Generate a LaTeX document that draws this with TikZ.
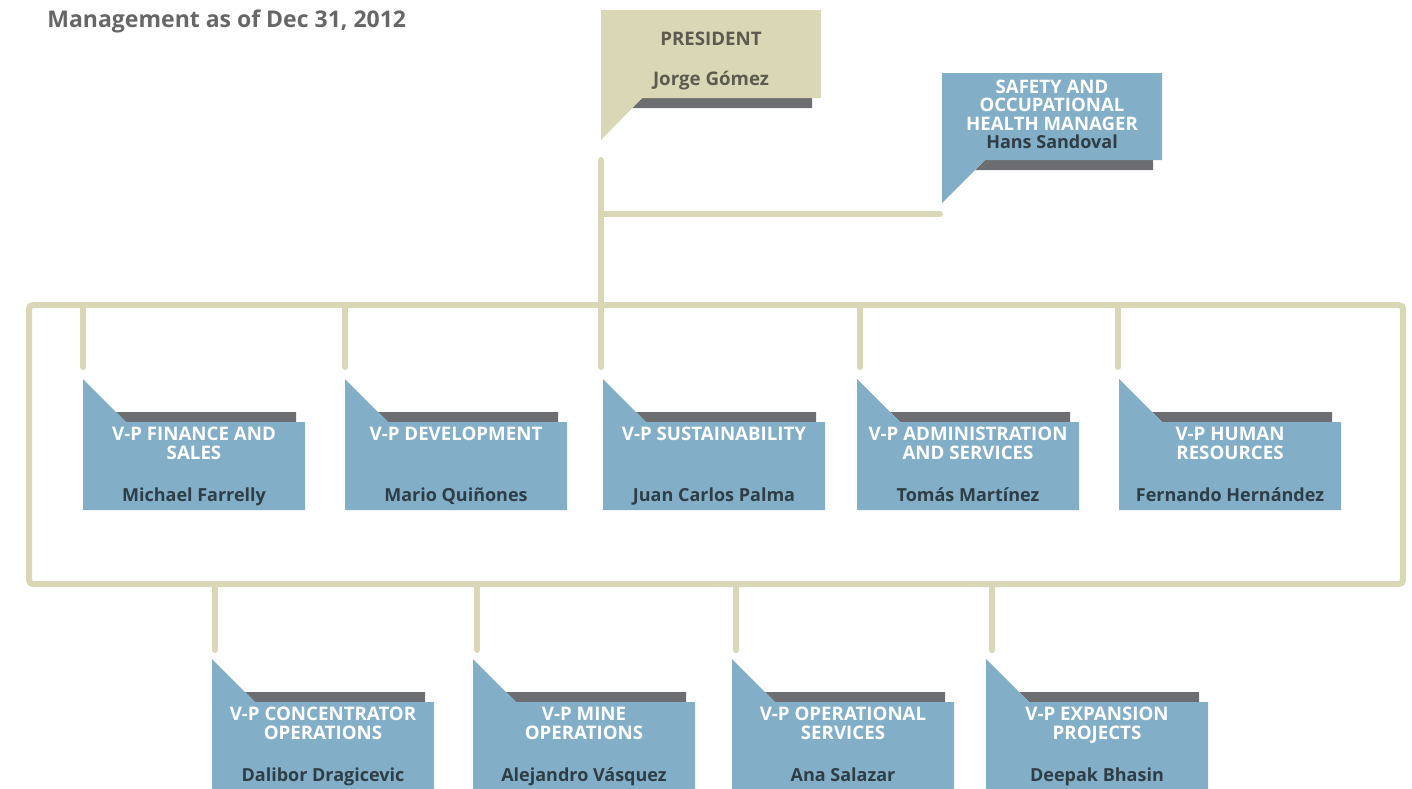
\documentclass[tikz,border=0pt]{standalone}
\usepackage{fontspec}
\setmainfont{Open Sans}
\usepackage{tikz}
\definecolor{vpblue}{RGB}{130,175,199}
\definecolor{linebeige}{RGB}{218,215,183}
\definecolor{shadowgray}{RGB}{109,110,113}
\definecolor{namedark}{RGB}{47,61,70}
\definecolor{presdark}{RGB}{92,91,78}
\definecolor{headgray}{RGB}{102,102,102}
\tikzset{
	linknode/.style={draw=linebeige, line width=3pt, line cap=round},
	vptitle/.style={anchor=north, align=center, inner sep=0pt, text=white, font=\bfseries\fontsize{9.35}{9.5}\selectfont},
	vpname/.style={anchor=base, inner sep=0pt, text=namedark, font=\bfseries\fontsize{9}{10}\selectfont},
	prestext/.style={anchor=base, inner sep=0pt, text=presdark, font=\bfseries\fontsize{9.35}{10}\selectfont}
}
% box with tail at the top left: name, left x, tail y, title, person
\newcommand{\vpbox}[5]{%
	\begin{scope}[shift={(#2,#3)}]
		\fill[shadowgray] (33,33) -- (213,33) -- (213,43) -- (43,43) -- cycle;
		\fill[vpblue] (0,0) -- (43,43) -- (222,43) -- (222,131) -- (0,131) -- cycle;
		\node[vptitle] (#1-title) at (111,47.6) {#4};
		\node[vpname] (#1-name) at (111,122) {#5};
	\end{scope}}

\begin{document}
\begin{tikzpicture}[x=0.5pt,y=-0.5pt]
	\useasboundingbox (0,0) rectangle (1412,788);
	\node[anchor=base west, inner sep=0pt, text=headgray, font=\bfseries\fontsize{11.5}{13}\selectfont] (heading) at (47,27) {Management as of Dec 31, 2012};
	% president
	\fill[shadowgray] (632,108) -- (642,98) -- (812,98) -- (812,108) -- cycle;
	\fill[linebeige] (601,10) -- (821,10) -- (821,98) -- (642,98) -- (601,140) -- cycle;
	\node[prestext] (pres-title) at (711,45) {PRESIDENT};
	\node[prestext] (pres-name) at (711,85) {Jorge Gómez};
	% safety manager
	\fill[shadowgray] (975,170) -- (985,160) -- (1153,160) -- (1153,170) -- cycle;
	\fill[vpblue] (942,73) -- (1162,73) -- (1162,160) -- (985,160) -- (942,203) -- cycle;
	\node[vptitle, font=\bfseries\fontsize{9.3}{9.25}\selectfont] (safety-title) at (1052,79.6) {SAFETY AND\\OCCUPATIONAL\\HEALTH MANAGER};
	\node[vpname] (safety-name) at (1052,148) {Hans Sandoval};
	% vice presidents
	\vpbox{fin}{83}{379}{V-P FINANCE AND\\SALES}{Michael Farrelly}
	\vpbox{dev}{345}{379}{V-P DEVELOPMENT}{Mario Quiñones}
	\vpbox{sust}{603}{379}{V-P SUSTAINABILITY}{Juan Carlos Palma}
	\vpbox{admin}{857}{379}{V-P ADMINISTRATION\\AND SERVICES}{Tomás Martínez}
	\vpbox{hr}{1119}{379}{V-P HUMAN\\RESOURCES}{Fernando Hernández}
	\vpbox{conc}{212}{659}{V-P CONCENTRATOR\\OPERATIONS}{Dalibor Dragicevic}
	\vpbox{mine}{473}{659}{V-P MINE\\OPERATIONS}{Alejandro Vásquez}
	\vpbox{opserv}{732}{659}{V-P OPERATIONAL\\SERVICES}{Ana Salazar}
	\vpbox{exp}{986}{659}{V-P EXPANSION\\PROJECTS}{Deepak Bhasin}
	% connectors
	\coordinate (pres-out) at (601,160);
	\coordinate (safety-in) at (940,214);
	\coordinate (frame-nw) at (29,305);
	\coordinate (frame-se) at (1403,584);
	\coordinate (fin-in) at (83,367);
	\coordinate (dev-in) at (345,367);
	\coordinate (sust-in) at (601,367);
	\coordinate (admin-in) at (860,367);
	\coordinate (hr-in) at (1118,367);
	\coordinate (conc-in) at (215,650);
	\coordinate (mine-in) at (477,650);
	\coordinate (opserv-in) at (736,650);
	\coordinate (exp-in) at (992,650);
	\draw[linknode, line cap=butt, rounded corners=2pt] (frame-nw) rectangle (frame-se);
	\draw[linknode] (pres-out) -- (sust-in);
	\draw[linknode] (pres-out |- safety-in) -- (safety-in);
	\foreach \n in {fin,dev,admin,hr}
		\draw[linknode] (\n-in |- frame-nw) -- (\n-in);
	\foreach \n in {conc,mine,opserv,exp}
		\draw[linknode] (\n-in |- frame-se) -- (\n-in);
\end{tikzpicture}
\end{document}
